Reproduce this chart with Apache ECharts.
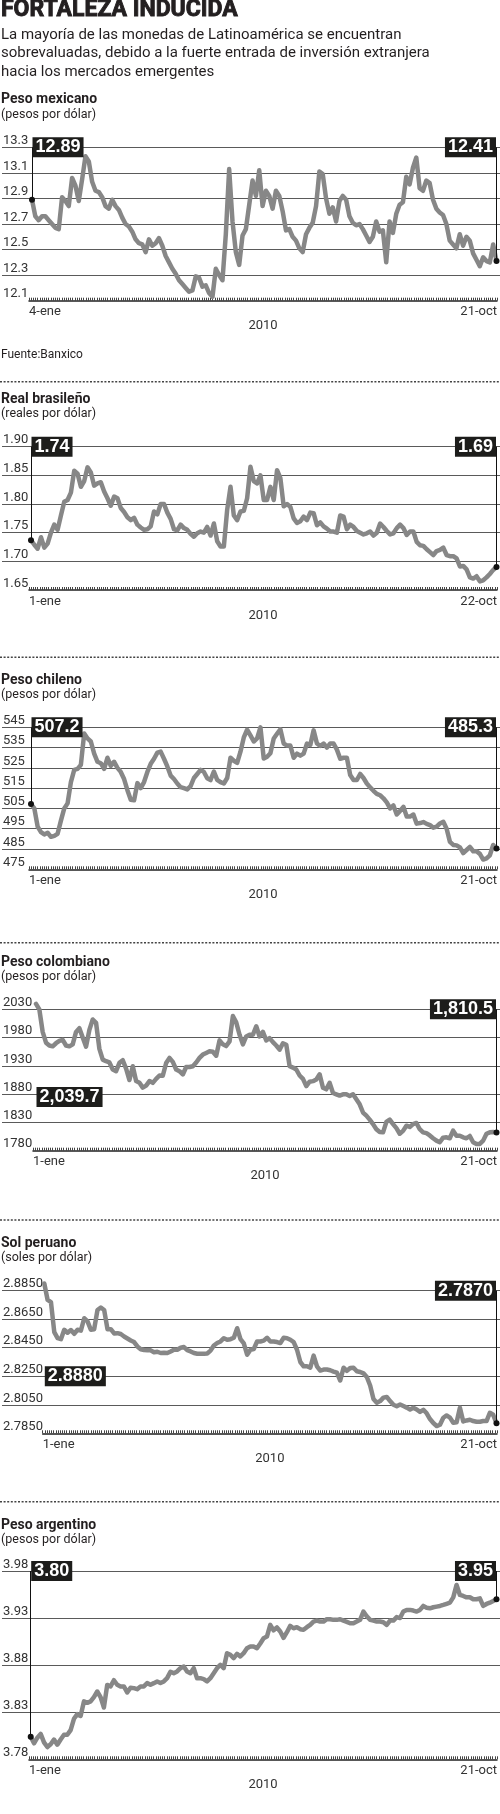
<!DOCTYPE html>
<html><head><meta charset="utf-8">
<script src="https://cdn.jsdelivr.net/npm/echarts@6/dist/echarts.min.js"></script>
<style>html,body{margin:0;padding:0;background:#fff}#c{width:500px;height:1814px}</style>
</head><body><div id="c"></div>
<script>
// ---------- DATA ----------
const mxValues = [12.89,12.76,12.73,12.76,12.76,12.73,12.70,12.67,12.66,12.91,
12.88,12.84,13.06,13.00,12.88,13.05,13.23,13.19,13.03,12.96,
12.95,12.91,12.84,12.82,12.89,12.84,12.81,12.75,12.70,12.68,
12.64,12.58,12.55,12.54,12.48,12.58,12.53,12.55,12.59,12.53,
12.45,12.40,12.35,12.31,12.26,12.23,12.20,12.17,12.18,12.29,
12.28,12.21,12.22,12.16,12.13,12.35,12.30,12.26,12.62,13.13,
12.72,12.48,12.38,12.61,12.66,12.85,13.04,12.92,13.12,12.84,
12.96,12.92,12.82,12.96,12.92,12.80,12.65,12.66,12.60,12.57,
12.51,12.48,12.62,12.67,12.71,12.84,13.11,13.09,12.90,12.78,
12.83,12.72,12.88,12.92,12.89,12.76,12.71,12.69,12.70,12.66,
12.61,12.56,12.60,12.72,12.64,12.65,12.40,12.72,12.63,12.78,
12.85,12.87,13.07,13.01,13.14,13.22,12.98,12.96,13.04,13.02,
12.89,12.82,12.79,12.77,12.70,12.57,12.54,12.51,12.62,12.53,
12.60,12.57,12.47,12.42,12.37,12.44,12.41,12.40,12.54,12.41];

const brValues = [1.737,1.729,1.722,1.742,1.724,1.731,1.75,1.764,1.755,1.78,
1.804,1.807,1.82,1.858,1.853,1.83,1.84,1.864,1.855,1.832,
1.836,1.838,1.822,1.81,1.797,1.813,1.81,1.793,1.786,1.777,
1.772,1.776,1.764,1.759,1.755,1.756,1.761,1.787,1.782,1.80,
1.80,1.785,1.774,1.756,1.754,1.764,1.758,1.755,1.748,1.743,
1.749,1.752,1.75,1.76,1.745,1.766,1.735,1.726,1.726,1.79,
1.83,1.78,1.772,1.787,1.788,1.81,1.865,1.84,1.836,1.85,
1.807,1.807,1.83,1.807,1.859,1.845,1.796,1.80,1.795,1.775,
1.767,1.77,1.778,1.772,1.785,1.784,1.763,1.768,1.761,1.757,
1.752,1.752,1.75,1.78,1.778,1.756,1.764,1.76,1.753,1.75,
1.747,1.749,1.752,1.745,1.75,1.766,1.76,1.753,1.747,1.749,
1.758,1.764,1.758,1.746,1.752,1.752,1.734,1.728,1.727,1.721,
1.716,1.711,1.718,1.72,1.724,1.711,1.709,1.709,1.705,1.691,
1.692,1.686,1.672,1.67,1.674,1.665,1.667,1.672,1.678,1.685,1.69];

const clValues = [507.2,505,496,493.3,492.2,493,491,491.5,492.5,499,
505,507.5,518,524,524.5,526.5,542,539.5,538,532,
528,527.3,524.5,530,526,528,525,523,519.5,514,
509.3,509,517.5,515,518,523,527,529.5,532.5,533,
529.5,525.7,521.2,519.5,517.3,515.5,515,514.4,516,520,
522,524,523,519.9,519,523.2,519.1,518,517.3,520,
530,528.5,527.5,533,540,543.8,541,538,539.5,545,
529.6,530.5,532.2,539.5,541.8,544,537,536,536,530,
532,531,532,537,536.3,543.5,537,535.8,537,535,
537,537,534,529.5,530,530,521.5,519,519,522,
520,517.3,515.4,513.7,512.2,511.5,510,508,505,506.5,
502,503.8,505.8,501,501,502,497.5,497.8,498.3,497.4,
496.8,495.5,496,497.6,498.4,495,488.5,487,486.8,485.8,
483,484.5,486,483.9,483.9,482.6,479.8,480.4,481.9,487,485.3];

const coValues = [2039.7,2030,1990,1971,1966,1964.5,1970,1974,1976,1966,
1964.5,1968,1990,1996.7,1980,1964,1993.7,2012,2006,1960,
1941,1938.2,1936,1923.6,1920.6,1935.3,1940,1925,1905,1929.4,
1903.1,1900.2,1891.5,1895,1903.1,1900,1907,1913,1912.5,1935,
1944,1937,1923.6,1920.6,1914.8,1928,1928,1929.4,1936,1944,
1950,1952.8,1955.7,1955,1948,1975,1968,1965,1973.3,2018,
2007,1985,1968,1982,1985,1985,2000,1982,1990,1975,
1979,1972,1966,1958.7,1970,1967.4,1929.4,1927,1923.6,1913,
1907,1894.3,1902,1903,1906,1915,1891.4,1888.5,1900,1882,
1879.7,1877.5,1879.7,1879.7,1876.8,1879.7,1871,1862,1847.5,1842,
1835,1827,1818,1813,1812.5,1831,1835,1827,1820,1810,
1815,1824.2,1822,1827,1829,1818,1812.5,1811,1807,1802,
1797.8,1795,1803,1803.7,1802,1815.4,1806.6,1806.6,1803.7,1802,
1806,1795,1792,1792,1797.8,1810,1812.5,1813,1812];

const peValues = [2.890,2.8785,2.877,2.856,2.8517,2.851,2.8576,2.8555,2.8574,2.8548,
2.8576,2.857,2.8657,2.8635,2.8576,2.858,2.8715,2.8732,2.8715,2.858,
2.858,2.855,2.8552,2.8546,2.8529,2.8515,2.8501,2.849,2.8459,2.8439,
2.8434,2.8433,2.8432,2.8418,2.8422,2.8413,2.8415,2.8413,2.8424,2.8436,
2.8436,2.845,2.8455,2.8433,2.8424,2.8413,2.8408,2.8408,2.8408,2.841,
2.843,2.8466,2.8483,2.8494,2.8517,2.8506,2.851,2.852,2.8587,2.851,
2.848,2.8401,2.8436,2.8441,2.8494,2.8494,2.85,2.852,2.8494,2.8494,
2.849,2.8483,2.852,2.8517,2.8506,2.849,2.8436,2.835,2.832,2.832,
2.831,2.8395,2.832,2.829,2.8297,2.8297,2.8292,2.8283,2.8275,2.822,
2.831,2.8288,2.8308,2.831,2.8285,2.828,2.827,2.8245,2.8185,2.809,
2.8064,2.8076,2.81,2.8105,2.8076,2.805,2.804,2.8052,2.8041,2.803,
2.8017,2.8029,2.8017,2.8,2.8015,2.799,2.795,2.7922,2.7901,2.791,
2.7959,2.7975,2.796,2.7924,2.7928,2.8029,2.7933,2.794,2.7945,2.7936,
2.7931,2.7931,2.7936,2.7936,2.7994,2.798,2.792];

const arValues = [3.804,3.797,3.803,3.807,3.798,3.793,3.796,3.801,3.7955,3.801,
3.806,3.806,3.811,3.823,3.828,3.826,3.8415,3.84,3.8415,3.846,
3.852,3.846,3.835,3.859,3.8574,3.864,3.8592,3.8574,3.8574,3.851,
3.856,3.8556,3.8545,3.8574,3.8574,3.8609,3.8592,3.8609,3.8627,3.861,
3.8627,3.8662,3.873,3.8715,3.8733,3.8768,3.8786,3.8733,3.8715,3.8768,
3.866,3.8662,3.8652,3.8627,3.8662,3.8715,3.8768,3.8804,3.8768,3.8927,
3.891,3.8874,3.892,3.8892,3.8927,3.898,3.8998,3.8998,3.898,3.903,
3.9086,3.9104,3.9228,3.917,3.92,3.9157,3.909,3.915,3.9217,3.9192,
3.9203,3.9182,3.9175,3.9203,3.9228,3.9263,3.9273,3.9263,3.9263,3.9288,
3.9288,3.9281,3.9281,3.9288,3.9273,3.926,3.9245,3.9245,3.9263,3.9281,
3.9369,3.932,3.9281,3.9273,3.9263,3.9263,3.9255,3.9228,3.9273,3.9273,
3.931,3.93,3.9369,3.9387,3.9387,3.938,3.9369,3.9387,3.9429,3.941,
3.9404,3.9415,3.9422,3.9429,3.944,3.9452,3.9464,3.952,3.9652,3.9546,
3.9535,3.952,3.9521,3.95,3.95,3.951,3.9429,3.945,3.9464,3.9482,3.95];

const mxTicks = ['13.3','13.1','12.9','12.7','12.5','12.3','12.1'];
const brTicks = ['1.90','1.85','1.80','1.75','1.70','1.65'];
const clTicks = ['545','535','525','515','505','495','485','475'];
const coTicks = ['2030','1980','1930','1880','1830','1780'];
const peTicks = ['2.8850','2.8650','2.8450','2.8250','2.8050','2.7850'];
const arTicks = ['3.98','3.93','3.88','3.83','3.78'];

const panelTitles = ['Peso mexicano','Real brasileño','Peso chileno','Peso colombiano','Sol peruano','Peso argentino'];
const panelUnits = ['(pesos por dólar)','(reales por dólar)','(pesos por dólar)','(pesos por dólar)','(soles por dólar)','(pesos por dólar)'];
const startLabels = ['4-ene','1-ene','1-ene','1-ene','1-ene','1-ene'];
const endLabels = ['21-oct','22-oct','21-oct','21-oct','21-oct','21-oct'];
const firstValueTexts = ['12.89','1.74','507.2','2,039.7','2.8880','3.80'];
const lastValueTexts = ['12.41','1.69','485.3','1,810.5','2.7870','3.95'];
// value level at which each annotation box sits
const firstBoxLevels = [13.3, 1.90, 545, 1875, 2.825, 3.98];
const lastBoxLevels = [13.3, 1.90, 545, 2030, 2.885, 3.98];
const yearLabel = '2010';

// ---------- LAYOUT ----------
const layout = [
  {titleY:99.5, unitY:114.7, top:147.3, bottom:300.7, dataLeft:32, tickLeft:29, tickN:214},
  {titleY:399.3, unitY:414.3, top:446.7, bottom:590, dataLeft:31, tickLeft:29, tickN:214},
  {titleY:680, unitY:694.5, top:727.3, bottom:869.3, dataLeft:31, tickLeft:29, tickN:214},
  {titleY:962.7, unitY:977.3, top:1009.3, bottom:1150.7, dataLeft:36, tickLeft:33, tickN:212},
  {titleY:1243.3, unitY:1258.3, top:1290.7, bottom:1433.3, dataLeft:44.3, tickLeft:42.7, tickN:208},
  {titleY:1525, unitY:1540, top:1571, bottom:1759.3, dataLeft:30.7, tickLeft:29, tickN:214}
];
const separators = [381.7, 657.3, 942.7, 1220, 1501.7];

const seriesValues = [mxValues, brValues, clValues, coValues, peValues, arValues];
const tickLabels = [mxTicks, brTicks, clTicks, coTicks, peTicks, arTicks];

const FONT = 'Roboto, "Noto Sans", sans-serif';
const TXT = '#231f20';
const LINE = '#878787';
const GRIDC = '#5a5a5a';

const grids = [], xAxes = [], yAxes = [], series = [], graphic = [];

graphic.push({type:'text', x:1, y:10, style:{text:'FORTALEZA INDUCIDA', font:'bold 23px ' + FONT, fill:TXT, stroke:TXT, lineWidth:0.9, verticalAlign:'middle'}});
['La mayoría de las monedas de Latinoamérica se encuentran',
 'sobrevaluadas, debido a la fuerte entrada de inversión extranjera',
 'hacia los mercados emergentes'].forEach((t, i) => {
  graphic.push({type:'text', x:1, y:35 + i * 18.7, style:{text:t, font:'15px ' + FONT, fill:TXT, verticalAlign:'middle'}});
});
graphic.push({type:'text', x:1, y:355, style:{text:'Fuente:Banxico', font:'12px ' + FONT, fill:TXT, verticalAlign:'middle'}});
separators.forEach(y => {
  graphic.push({type:'line', shape:{x1:0, y1:y, x2:500, y2:y}, style:{stroke:'#444', lineWidth:1.5, lineDash:[2, 1.6]}});
});

layout.forEach((L, i) => {
  const vals = seriesValues[i];
  const ticks = tickLabels[i].map(t => Number(t));
  const yMax = ticks[0], yMin = ticks[ticks.length - 1];
  const step = +(ticks[0] - ticks[1]).toFixed(6);
  const h = L.bottom - L.top;
  const last = vals.length - 1;

  graphic.push({type:'text', x:1, y:L.titleY, style:{text:panelTitles[i], font:'bold 14px ' + FONT, fill:TXT, verticalAlign:'middle'}});
  graphic.push({type:'text', x:1, y:L.unitY, style:{text:panelUnits[i], font:'12.5px ' + FONT, fill:TXT, verticalAlign:'middle'}});

  // background grid: full-width gridlines and labels
  const gBg = grids.length;
  grids.push({left:0, right:0, top:L.top, height:h});
  xAxes.push({gridIndex:gBg, type:'value', min:0, max:1, show:false});
  yAxes.push({gridIndex:gBg, type:'value', min:yMin, max:yMax, interval:step,
    axisLine:{show:false}, axisTick:{show:false},
    axisLabel:{inside:true, margin:1, align:'left', verticalAlign:'bottom', fontFamily:FONT, fontSize:13, color:'#333',
      formatter: v => { const k = ticks.findIndex(t => Math.abs(t - v) < step / 10); return k >= 0 ? tickLabels[i][k] : ''; }},
    splitLine:{show:true, showMinLine:false, lineStyle:{color:GRIDC, width:1}}
  });

  // tick axis grid
  const gTk = grids.length;
  grids.push({left:L.tickLeft, right:0, top:L.top, height:h});
  xAxes.push({gridIndex:gTk, type:'value', min:0, max:L.tickN, interval:1,
    axisLine:{show:true, onZero:false, lineStyle:{color:'#222', width:1.5}},
    axisTick:{show:true, inside:true, length:3, lineStyle:{color:'#444', width:1}},
    splitLine:{show:false},
    axisLabel:{show:true, customValues:[0, L.tickN], alignMinLabel:'left', alignMaxLabel:'right', margin:5,
      fontFamily:FONT, fontSize:13, color:'#333',
      formatter: v => v === 0 ? startLabels[i] : (v === L.tickN ? endLabels[i] : '')},
    name:yearLabel, nameLocation:'middle', nameGap:16,
    nameTextStyle:{fontFamily:FONT, fontSize:13, color:'#333'}
  });
  yAxes.push({gridIndex:gTk, type:'value', min:0, max:1, show:false});

  // data grid
  const gDt = grids.length;
  grids.push({left:L.dataLeft, right:3.5, top:L.top, height:h});
  xAxes.push({gridIndex:gDt, type:'category', boundaryGap:false, data:vals.map((_, k) => k), show:false});
  yAxes.push({gridIndex:gDt, type:'value', min:yMin, max:yMax, show:false});

  const boxLabel = {show:true, color:'#fff', backgroundColor:'#1d1d1b', fontFamily:'"Liberation Sans", Arial, sans-serif',
    fontWeight:'bold', fontSize:18, lineHeight:20, padding:[0, 3, 0, 3], distance:0};
  series.push({
    type:'line', xAxisIndex:gDt, yAxisIndex:gDt, data:vals, showSymbol:false, symbol:'none', clip:false,
    silent:true, animation:false,
    lineStyle:{color:LINE, width:4.5, join:'round', cap:'round'},
    markLine:{silent:true, symbol:['none', 'none'], animation:false, z:5, label:{show:false},
      lineStyle:{color:'#111', width:1, type:'solid'}, emphasis:{disabled:true},
      data:[[{coord:[0, vals[0]]}, {coord:[0, firstBoxLevels[i]]}],
            [{coord:[last, vals[last]]}, {coord:[last, lastBoxLevels[i]]}]]},
    markPoint:{silent:true, animation:false, z:6, emphasis:{disabled:true},
      data:[
        {coord:[0, vals[0]], symbol:'circle', symbolSize:6, itemStyle:{color:'#111'}, label:{show:false}},
        {coord:[last, vals[last]], symbol:'circle', symbolSize:6, itemStyle:{color:'#111'}, label:{show:false}},
        {coord:[0, firstBoxLevels[i]], symbol:'rect', symbolSize:1, itemStyle:{color:'rgba(0,0,0,0)'},
          label:Object.assign({}, boxLabel, {position:'right', formatter:firstValueTexts[i]})},
        {coord:[last, lastBoxLevels[i]], symbol:'rect', symbolSize:1, itemStyle:{color:'rgba(0,0,0,0)'},
          label:Object.assign({}, boxLabel, {position:'left', formatter:lastValueTexts[i]})}
      ]}
  });
});

const chart = echarts.init(document.getElementById('c'), null, {renderer:'canvas'});
chart.setOption({
  animation:false,
  backgroundColor:'#fff',
  textStyle:{fontFamily:FONT},
  grid:grids, xAxis:xAxes, yAxis:yAxes, series:series, graphic:graphic
});
</script>
</body></html>
